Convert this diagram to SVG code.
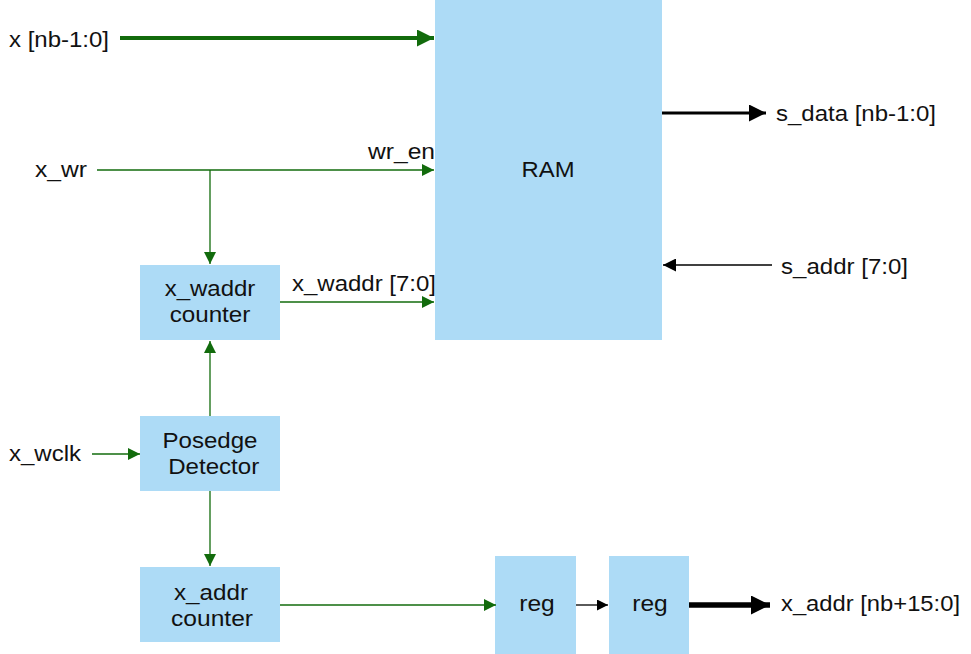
<svg xmlns="http://www.w3.org/2000/svg" width="971" height="654" viewBox="0 0 971 654">
<style>
.box{fill:#addbf6}
text{font-family:"Liberation Sans",Arial,sans-serif;font-size:22px;fill:#111}
.c{text-anchor:middle}
.g{stroke:#126b0c;fill:none}
.k{stroke:#000;fill:none}
</style>
<defs>
<marker id="ag" viewBox="0 0 10 10" refX="10" refY="5" markerWidth="18" markerHeight="12" markerUnits="userSpaceOnUse" orient="auto"><path d="M0,0L10,5L0,10z" fill="#126b0c"/></marker>
<marker id="agb" viewBox="0 0 10 10" refX="10" refY="5" markerWidth="24" markerHeight="17" markerUnits="userSpaceOnUse" orient="auto"><path d="M0,0L10,5L0,10z" fill="#126b0c"/></marker>
<marker id="ak" viewBox="0 0 10 10" refX="10" refY="5" markerWidth="25" markerHeight="17" markerUnits="userSpaceOnUse" orient="auto"><path d="M0,0L10,5L0,10z" fill="#000"/></marker>
<marker id="akm" viewBox="0 0 10 10" refX="10" refY="5" markerWidth="20" markerHeight="13" markerUnits="userSpaceOnUse" orient="auto"><path d="M0,0L10,5L0,10z" fill="#000"/></marker>
<marker id="akb" viewBox="0 0 10 10" refX="10" refY="5" markerWidth="29" markerHeight="19" markerUnits="userSpaceOnUse" orient="auto"><path d="M0,0L10,5L0,10z" fill="#000"/></marker>
<marker id="aks" viewBox="0 0 10 10" refX="10" refY="5" markerWidth="17" markerHeight="11" markerUnits="userSpaceOnUse" orient="auto"><path d="M0,0L10,5L0,10z" fill="#000"/></marker>
</defs>
<g id="ram"><rect class="box" x="435" y="0" width="227" height="340"/><text class="c" x="548" y="177" textLength="53" lengthAdjust="spacingAndGlyphs">RAM</text></g>
<g id="xwaddr"><rect class="box" x="140" y="265" width="140" height="75"/><text class="c" x="210" y="296" textLength="90.7" lengthAdjust="spacingAndGlyphs">x_waddr</text><text class="c" x="210" y="322" textLength="80.7" lengthAdjust="spacingAndGlyphs">counter</text></g>
<g id="posedge"><rect class="box" x="140" y="416" width="140" height="75"/><text class="c" x="210" y="448" textLength="95" lengthAdjust="spacingAndGlyphs">Posedge</text><text class="c" x="213.7" y="474" textLength="91" lengthAdjust="spacingAndGlyphs">Detector</text></g>
<g id="xaddr"><rect class="box" x="140" y="567" width="140" height="75"/><text class="c" x="211" y="600" textLength="74" lengthAdjust="spacingAndGlyphs">x_addr</text><text class="c" x="212" y="626" textLength="82" lengthAdjust="spacingAndGlyphs">counter</text></g>
<g id="reg1"><rect class="box" x="495" y="556" width="81" height="98"/><text class="c" x="537" y="611" textLength="35.5" lengthAdjust="spacingAndGlyphs">reg</text></g>
<g id="reg2"><rect class="box" x="609" y="556" width="80" height="98"/><text class="c" x="650" y="611" textLength="35.5" lengthAdjust="spacingAndGlyphs">reg</text></g>
<g id="labels">
<text x="9" y="47" textLength="100" lengthAdjust="spacingAndGlyphs">x [nb-1:0]</text>
<text x="35" y="177" textLength="52" lengthAdjust="spacingAndGlyphs">x_wr</text>
<text x="368" y="159" textLength="67" lengthAdjust="spacingAndGlyphs">wr_en</text>
<text x="776" y="121" textLength="160" lengthAdjust="spacingAndGlyphs">s_data [nb-1:0]</text>
<text x="781" y="274" textLength="127" lengthAdjust="spacingAndGlyphs">s_addr [7:0]</text>
<text x="292" y="291" textLength="144" lengthAdjust="spacingAndGlyphs">x_waddr [7:0]</text>
<text x="9" y="461" textLength="72" lengthAdjust="spacingAndGlyphs">x_wclk</text>
<text x="781" y="611" textLength="179" lengthAdjust="spacingAndGlyphs">x_addr [nb+15:0]</text>
</g>
<g id="connectors">
<path class="g" stroke-width="4" d="M120,38H434" marker-end="url(#agb)"/>
<path class="g" stroke-width="1.3" d="M97,170H434" marker-end="url(#ag)"/>
<path class="g" stroke-width="1.3" d="M210,170V264" marker-end="url(#ag)"/>
<path class="g" stroke-width="1.3" d="M280,302H434" marker-end="url(#ag)"/>
<path class="g" stroke-width="1.3" d="M210,416V341" marker-end="url(#ag)"/>
<path class="g" stroke-width="1.3" d="M92,454H140" marker-end="url(#ag)"/>
<path class="g" stroke-width="1.3" d="M210,491V566" marker-end="url(#ag)"/>
<path class="g" stroke-width="1.3" d="M280,605H496" marker-end="url(#ag)"/>
<path class="k" stroke-width="1.3" d="M576,605H608" marker-end="url(#aks)"/>
<path class="k" stroke-width="5.5" d="M689,605H770" marker-end="url(#akb)"/>
<path class="k" stroke-width="3" d="M662,113H766" marker-end="url(#ak)"/>
<path class="k" stroke-width="1.3" d="M772,265H663" marker-end="url(#akm)"/>
</g>
</svg>
